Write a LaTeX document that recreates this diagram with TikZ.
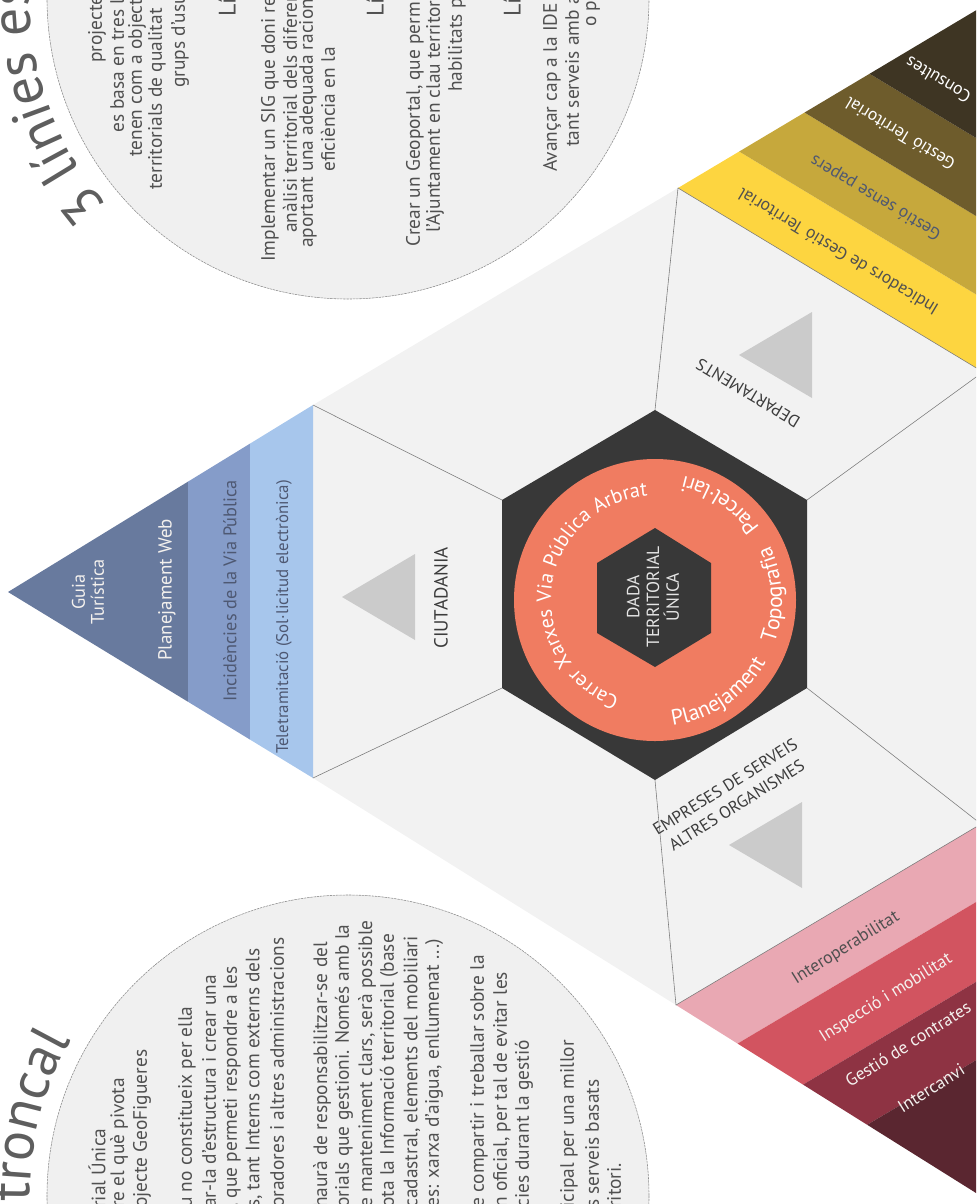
\documentclass[tikz,border=0pt]{standalone}
\usepackage{fontspec}
\setmainfont{PT Sans}
\usepackage{xcolor}
\usetikzlibrary{calc,decorations.text}
\definecolor{hexgrey}{HTML}{F2F2F2}
\definecolor{circgrey}{HTML}{F0F0F0}
\definecolor{circline}{HTML}{8C8C8C}
\definecolor{linegrey}{HTML}{7A7A7A}
\definecolor{pointgrey}{HTML}{CBCBCB}
\definecolor{coredark}{HTML}{383838}
\definecolor{salmon}{HTML}{F07C61}
\definecolor{blueA}{HTML}{687A9E}
\definecolor{blueB}{HTML}{859CC9}
\definecolor{blueC}{HTML}{A7C6EC}
\definecolor{yelA}{HTML}{FDD540}
\definecolor{yelB}{HTML}{C6A83C}
\definecolor{yelC}{HTML}{6E5C2C}
\definecolor{yelD}{HTML}{3E3523}
\definecolor{redA}{HTML}{E9A8B3}
\definecolor{redB}{HTML}{D25460}
\definecolor{redC}{HTML}{8E3343}
\definecolor{redD}{HTML}{5A2630}
\definecolor{bodygrey}{HTML}{505050}
\definecolor{labelgrey}{HTML}{3C3C3C}
\definecolor{titlegrey}{HTML}{5E5E5E}
\definecolor{bluetext}{HTML}{4E5872}
\definecolor{paletext}{HTML}{F4F1EE}
\tikzset{
    pointer/.pic = {
    \fill[pointgrey] (0,-43) -- (0,43) -- (-73,0) -- cycle;
    },
    bandlabel/.style = {inner sep=0pt, font=\fontsize{12.5}{14}\selectfont},
    sectorlabel/.style = {inner sep=0pt, text=labelgrey, font=\fontsize{12}{15.5}\selectfont},
    bodyline/.style = {inner sep=0pt, rotate=90, text=bodygrey, font=\fontsize{13.8}{14}\selectfont},
    headline/.style = {inner sep=0pt, rotate=90, text=bodygrey, font=\fontsize{17}{18}\selectfont},
    sectorline/.style = {draw=linegrey, line width=0.4pt},
}
\begin{document}
\begin{tikzpicture}[x=0.025cm, y=-0.025cm, line cap=round, line join=round]
\useasboundingbox (0,0) rectangle (976,1204);
\clip (0,0) rectangle (976,1204);

\draw [fill=circgrey, draw=circline, line width=0.4pt, dash pattern=on 1.5pt off 0.8pt] (348,-2) circle (301);
\draw [fill=circgrey, draw=circline, line width=0.4pt, dash pattern=on 1.5pt off 0.8pt] (348,1196) circle (301);

\coordinate (B1) at (678,188);
\coordinate (B2) at (313,405);
\coordinate (B3) at (313,778);
\coordinate (B4) at (676,1005);
\coordinate (B5) at (981,824);
\coordinate (B6) at (983,372);
\coordinate (D1) at (655,410);
\coordinate (D2) at (502,500);
\coordinate (D3) at (502,688);
\coordinate (D4) at (655,780);
\coordinate (D5) at (807,688);
\coordinate (D6) at (807,500);
\coordinate (LA) at (8,592);
\coordinate (YA) at (1000,-4);
\coordinate (RA) at (1000,1208);

\fill [hexgrey] (B1) -- (B2) -- (B3) -- (B4) -- (B5) -- (B6) -- cycle;

\fill [blueC] (B2) -- (B3) -- ($(B3)!0.207!(LA)$) -- ($(B2)!0.207!(LA)$) -- cycle;
\fill [blueB] ($(B2)!0.207!(LA)$) -- ($(B3)!0.207!(LA)$) -- ($(B3)!0.41!(LA)$) -- ($(B2)!0.41!(LA)$) -- cycle;
\fill [blueA] ($(B2)!0.41!(LA)$) -- ($(B3)!0.41!(LA)$) -- (LA) -- cycle;

\fill [yelA] (B1) -- (B6) -- ($(B6)!0.19!(YA)$) -- ($(B1)!0.19!(YA)$) -- cycle;
\fill [yelB] ($(B1)!0.19!(YA)$) -- ($(B6)!0.19!(YA)$) -- ($(B6)!0.393!(YA)$) -- ($(B1)!0.393!(YA)$) -- cycle;
\fill [yelC] ($(B1)!0.393!(YA)$) -- ($(B6)!0.393!(YA)$) -- ($(B6)!0.595!(YA)$) -- ($(B1)!0.595!(YA)$) -- cycle;
\fill [yelD] ($(B1)!0.595!(YA)$) -- ($(B6)!0.595!(YA)$) -- (YA) -- cycle;

\fill [redA] (B4) -- (B5) -- ($(B5)!0.19!(RA)$) -- ($(B4)!0.19!(RA)$) -- cycle;
\fill [redB] ($(B4)!0.19!(RA)$) -- ($(B5)!0.19!(RA)$) -- ($(B5)!0.392!(RA)$) -- ($(B4)!0.392!(RA)$) -- cycle;
\fill [redC] ($(B4)!0.392!(RA)$) -- ($(B5)!0.392!(RA)$) -- ($(B5)!0.59!(RA)$) -- ($(B4)!0.59!(RA)$) -- cycle;
\fill [redD] ($(B4)!0.59!(RA)$) -- ($(B5)!0.59!(RA)$) -- (RA) -- cycle;

\draw [sectorline] (D1) -- (B1);
\draw [sectorline] (D2) -- (B2);
\draw [sectorline] (D3) -- (B3);
\draw [sectorline] (D4) -- (B4);
\draw [sectorline] (D5) -- (B5);
\draw [sectorline] (D6) -- (B6);
\draw [sectorline] (B1) -- (B6);
\draw [sectorline] (B4) -- (B5);

\fill [coredark] (D1) -- (D2) -- (D3) -- (D4) -- (D5) -- (D6) -- cycle;
\fill [salmon] (655,600) circle (141);
\fill [coredark] (655,528) -- (711,563) -- (711,633) -- (655,667) -- (597,633) -- (597,563) -- cycle;
\node [inner sep=0pt, rotate=90, align=center, text=white!90!black, font=\fontsize{12.5}{14}\selectfont] (core) at (653,597) {DADA\\TERRITORIAL\\ÚNICA};

\path [decorate, decoration={text along path, text={|\fontsize{14.5}{14.5}\selectfont\color{white}|Carrer Xarxes Via Pública Arbrat}, text align={fit to path stretching spaces}}] (655,600) ++(110:104) arc [start angle=110, end angle=266, radius=104];
\path [decorate, decoration={text along path, text={|\fontsize{15.5}{15.5}\selectfont\color{white}|Planejament Topografia Parcel·lari}, text align={fit to path stretching spaces}}] (655,600) ++(82:127) arc [start angle=82, end angle=-77, radius=127];

\path (415,597) pic {pointer};
\path (812,355) pic {pointer};
\path (802,845) pic {pointer};
\node [sectorlabel, rotate=90, font=\fontsize{13.5}{15.5}\selectfont] (ciutadania) at (441,598) {CIUTADANIA};
\node [sectorlabel, rotate=149] (departaments) at (748,393) {DEPARTAMENTS};
\node [sectorlabel, rotate=32, align=center] (empreses) at (731,796) {EMPRESES DE SERVEIS\\ALTRES ORGANISMES};

\node [bandlabel, rotate=90, align=center, text=paletext, font=\fontsize{13}{13.5}\selectfont] (guia) at (88,592) {Guia\\Turística};
\node [bandlabel, rotate=90, text=paletext, font=\fontsize{13.5}{14}\selectfont] (webplan) at (167,590) {Planejament Web};
\node [bandlabel, rotate=90, text=bluetext, font=\fontsize{13}{14}\selectfont] (incidencies) at (230,591) {Incidències de la Via Pública};
\node [bandlabel, rotate=90, text=bluetext, font=\fontsize{12}{14}\selectfont] (teletram) at (284,617) {Teletramitació (Sol·licitud electrònica)};

\node [bandlabel, rotate=149, text=bodygrey] (indicadors) at (838,252) {Indicadors de Gestió Territorial};
\node [bandlabel, rotate=149, text=bluetext] (senspaper) at (876,197) {Gestió sense papers};
\node [bandlabel, rotate=149, text=white] (gestterr) at (900,134) {Gestió Territorial};
\node [bandlabel, rotate=149, text=white] (consultes) at (938,80) {Consultes};

\node [bandlabel, rotate=32, text=bodygrey] (interop) at (846,948) {Interoperabilitat};
\node [bandlabel, rotate=32, text=paletext] (inspeccio) at (886,998) {Inspecció i mobilitat};
\node [bandlabel, rotate=32, text=paletext] (contrates) at (908,1044) {Gestió de contrates};
\node [bandlabel, rotate=32, text=paletext] (intercanvi) at (931,1088) {Intercanvi};

\path [decorate, decoration={text along path, text={|\fontsize{40}{40}\selectfont\color{titlegrey}|3 línies es}, text align=left}] (348,-2) ++(139:318) arc [start angle=139, end angle=200, radius=318];
\path [decorate, decoration={text along path, text={|\fontsize{40}{40}\selectfont\color{titlegrey}|troncal}, text align=left}] (348,1196) ++(179:318) arc [start angle=179, end angle=235, radius=318];

\node [bodyline, anchor=west] (t1) at (97,63) {projecte};
\node [bodyline, anchor=west] (t2) at (117,133) {es basa en tres lín};
\node [bodyline, anchor=west] (t3) at (137,157) {tenen com a object};
\node [bodyline, anchor=west] (t4) at (157,190) {territorials de qualitat};
\node [bodyline, anchor=west] (t5) at (180,88) {grups d'usu};
\node [headline, anchor=west] (h1) at (227,17) {Lí};
\node [bodyline, anchor=west] (t6) at (270,262) {Implementar un SIG que doni re};
\node [bodyline, anchor=west] (t7) at (290,233) {anàlisi territorial dels diferen};
\node [bodyline, anchor=west] (t8) at (308,248) {aportant una adequada racion};
\node [bodyline, anchor=west] (t9) at (328,172) {eficiència en la};
\node [headline, anchor=west] (h2) at (375,17) {Lí};
\node [bodyline, anchor=west] (t10) at (415,247) {Crear un Geoportal, que perm};
\node [bodyline, anchor=west] (t11) at (435,233) {l'Ajuntament en clau territor};
\node [bodyline, anchor=west] (t12) at (457,92) {habilitats p};
\node [headline, anchor=west] (h3) at (512,17) {Lí};
\node [bodyline, anchor=west] (t13) at (552,172) {Avançar cap a la IDE I};
\node [bodyline, anchor=west] (t14) at (572,147) {tant serveis amb a};
\node [bodyline, anchor=west] (t15) at (593,27) {o p};

\node [bodyline, anchor=west] (b1) at (97,1208) {rial Única};
\node [bodyline, anchor=west] (b2) at (119,1208) {re el què pivota};
\node [bodyline, anchor=west] (b3) at (142,1208) {ojecte GeoFigueres};
\node [bodyline, anchor=west] (b4) at (187,1208) {u no constitueix per ella};
\node [bodyline, anchor=west] (b5) at (209,1208) {ar-la d'estructura i crear una};
\node [bodyline, anchor=west] (b6) at (232,1208) {, que permeti respondre a les};
\node [bodyline, anchor=west] (b7) at (254,1208) {s, tant Interns com externs dels};
\node [bodyline, anchor=west] (b8) at (277,1208) {oradores i altres administracions};
\node [bodyline, anchor=west] (b9) at (322,1208) {haurà de responsabilitzar-se del};
\node [bodyline, anchor=west] (b10) at (344,1208) {orials que gestioni. Només amb la};
\node [bodyline, anchor=west] (b11) at (367,1208) {e manteniment clars, serà possible};
\node [bodyline, anchor=west] (b12) at (389,1208) {ota la Informació territorial (base};
\node [bodyline, anchor=west] (b13) at (412,1208) {cadastral, elements del mobiliari};
\node [bodyline, anchor=west] (b14) at (434,1208) {es: xarxa d'aigua, enllumenat ...)};
\node [bodyline, anchor=west] (b15) at (479,1208) {e compartir i treballar sobre la};
\node [bodyline, anchor=west] (b16) at (502,1208) {n oficial, per tal de evitar les};
\node [bodyline, anchor=west] (b17) at (524,1208) {cies durant la gestió};
\node [bodyline, anchor=west] (b18) at (569,1208) {icipal per una millor};
\node [bodyline, anchor=west] (b19) at (592,1208) {s serveis basats};
\node [bodyline, anchor=west] (b20) at (614,1208) {ritori.};
\end{tikzpicture}
\end{document}
